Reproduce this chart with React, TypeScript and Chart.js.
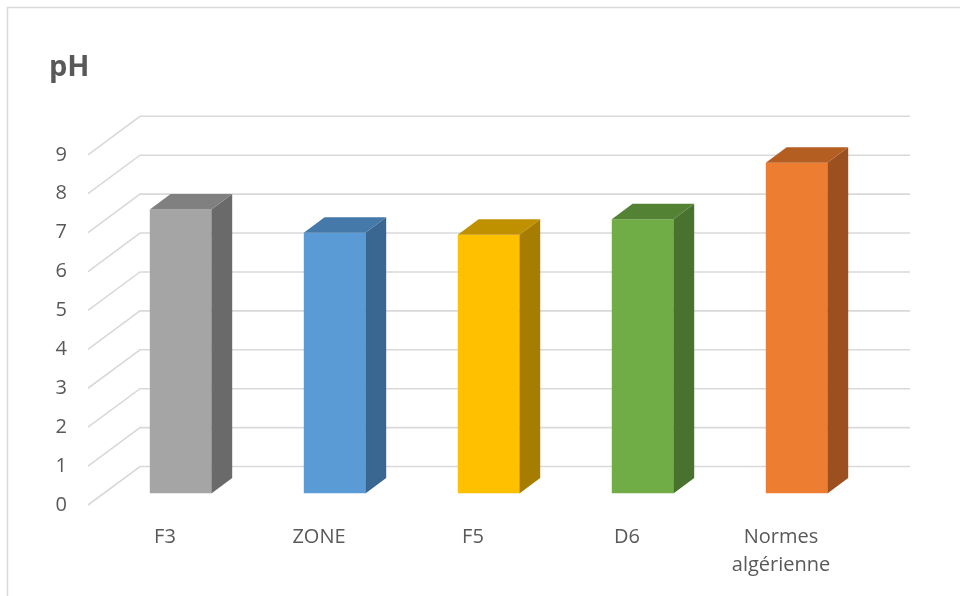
import { useEffect, useRef } from "react";
import { Chart, registerables } from "chart.js";

Chart.register(...registerables);

// Sample sites and reference norm
const categories: (string | string[])[] = ["F3", "ZONE", "F5", "D6", ["Normes", "algérienne"]];
// pH measured at each site
const phValues = [7.3, 6.7, 6.65, 7.05, 8.5];
// Value axis ticks
const yTickValues = [0, 1, 2, 3, 4, 5, 6, 7, 8, 9];

// Face colours of the 3D columns
const frontColors = ["#A5A5A5", "#5B9BD5", "#FFC000", "#70AD47", "#ED7D31"];
const sideColors = ["#6A6A6A", "#3A6791", "#A67D00", "#4A722F", "#9C501F"];
const topColors = ["#808080", "#4479A9", "#BF9000", "#548235", "#B45E22"];

// Perspective offset from the front plane to the back wall
const WALL_DX = 52;
const WALL_DY = -38.5;
const BAR_START = 0.3;
const BAR_DEPTH = 0.4;

const FONT = "'Open Sans', sans-serif";
const GRID = "#D9D9D9";

const depthPlugin = {
  id: "depth3d",
  beforeDraw(chart: any) {
    const ctx = chart.ctx;
    ctx.save();
    ctx.fillStyle = "#FFFFFF";
    ctx.fillRect(0, 0, chart.width, chart.height);
    ctx.strokeStyle = GRID;
    ctx.lineWidth = 1.5;
    ctx.strokeRect(7.5, 7.5, chart.width + 20, chart.height + 20);
    ctx.restore();
  },
  beforeDatasetsDraw(chart: any) {
    const ctx = chart.ctx;
    const area = chart.chartArea;
    const y = chart.scales.y;
    ctx.save();
    ctx.strokeStyle = GRID;
    ctx.lineWidth = 1.6;
    y.ticks.forEach((t: any) => {
      const py = y.getPixelForValue(t.value);
      ctx.beginPath();
      ctx.moveTo(area.left, py);
      ctx.lineTo(area.left + WALL_DX, py + WALL_DY);
      ctx.lineTo(area.right + WALL_DX, py + WALL_DY);
      ctx.stroke();
    });
    ctx.restore();
    // front faces sit partway into the depth
    ctx.save();
    ctx.translate(WALL_DX * BAR_START, WALL_DY * BAR_START);
  },
  afterDatasetsDraw(chart: any) {
    const ctx = chart.ctx;
    ctx.restore();
    const ox = WALL_DX * BAR_START;
    const oy = WALL_DY * BAR_START;
    const bx = WALL_DX * BAR_DEPTH;
    const by = WALL_DY * BAR_DEPTH;
    const meta = chart.getDatasetMeta(0);
    ctx.save();
    meta.data.forEach((bar: any, i: number) => {
      const p = bar.getProps(["x", "y", "base", "width"], true);
      const left = p.x - p.width / 2 + ox;
      const right = p.x + p.width / 2 + ox;
      const top = p.y + oy;
      const bottom = p.base + oy;
      // side face
      ctx.fillStyle = sideColors[i];
      ctx.beginPath();
      ctx.moveTo(right, top);
      ctx.lineTo(right + bx, top + by);
      ctx.lineTo(right + bx, bottom + by);
      ctx.lineTo(right, bottom);
      ctx.closePath();
      ctx.fill();
      // top face
      ctx.fillStyle = topColors[i];
      ctx.beginPath();
      ctx.moveTo(left, top);
      ctx.lineTo(left + bx, top + by);
      ctx.lineTo(right + bx, top + by);
      ctx.lineTo(right, top);
      ctx.closePath();
      ctx.fill();
    });
    ctx.restore();
  },
};

export default function App() {
  const canvasRef = useRef<HTMLCanvasElement | null>(null);

  useEffect(() => {
    document.body.style.margin = "0";
    const canvas = canvasRef.current;
    if (!canvas) return;
    const chart = new Chart(canvas, {
      type: "bar",
      data: {
        labels: categories,
        datasets: [
          {
            label: "pH",
            data: phValues,
            backgroundColor: frontColors,
            borderWidth: 0,
            barPercentage: 0.4,
            categoryPercentage: 1,
          },
        ],
      },
      options: {
        responsive: false,
        animation: false,
        devicePixelRatio: 1,
        layout: { padding: { left: 49, right: 102, top: 0, bottom: 0 } },
        plugins: {
          legend: { display: false },
          tooltip: { enabled: false },
          title: {
            display: true,
            text: "pH",
            align: "start",
            color: "#595959",
            font: { family: FONT, size: 29, weight: "bold", lineHeight: 1.2 },
            padding: { top: 50, bottom: 70 },
          },
        },
        scales: {
          x: {
            grid: { display: false, drawTicks: false },
            border: { display: false },
            ticks: {
              color: "#595959",
              font: { family: FONT, size: 20, lineHeight: 1.4 },
              padding: 18,
              maxRotation: 0,
              autoSkip: false,
            },
            afterFit: (s: any) => {
              s.height = 91;
            },
          },
          y: {
            min: 0,
            max: 9,
            grid: { display: false, drawTicks: false },
            border: { display: false },
            ticks: {
              color: "#595959",
              font: { family: FONT, size: 20 },
              padding: 21,
            },
            afterBuildTicks: (s: any) => {
              s.ticks = yTickValues.map((v) => ({ value: v }));
            },
            afterFit: (s: any) => {
              s.width = 39;
            },
          },
        },
      },
      plugins: [depthPlugin],
    });
    return () => chart.destroy();
  }, []);

  return (
    <div style={{ position: "fixed", left: 0, top: 0, width: 960, height: 596 }}>
      <canvas ref={canvasRef} width={960} height={596} />
    </div>
  );
}
